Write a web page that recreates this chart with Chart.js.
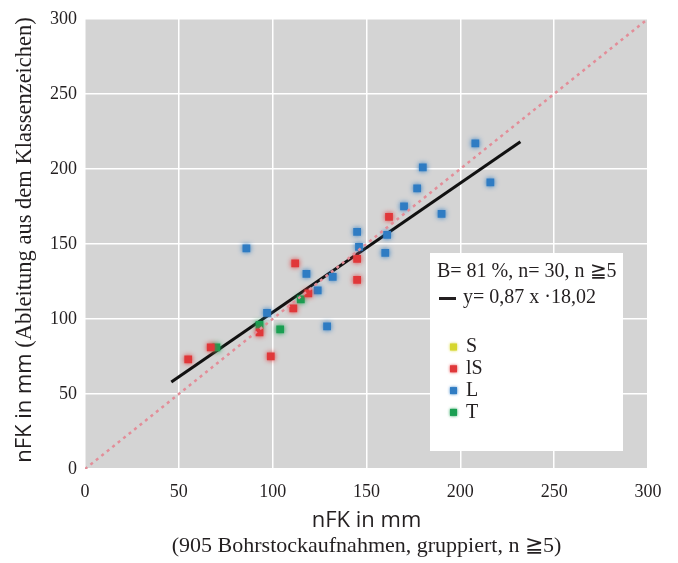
<!DOCTYPE html>
<html>
<head>
<meta charset="utf-8">
<script src="https://cdn.jsdelivr.net/npm/chart.js@4.4.1/dist/chart.umd.min.js"></script>
<style>
  html, body { margin: 0; padding: 0; background: #fff; }
</style>
</head>
<body>
<canvas id="c" width="678" height="563"></canvas>
<script>
var sX  = [], sY = [];
var lsX = [55, 67, 93, 99, 111, 112, 119, 145, 145, 162];
var lsY = [73, 81, 91, 75, 107, 137, 117, 140, 126, 168];
var lX  = [86, 97, 118, 124, 129, 132, 145, 146, 160, 161, 170, 177, 180, 190, 208, 216];
var lY  = [147, 104, 130, 119, 95, 128, 158, 148, 144, 156, 175, 187, 201, 170, 217, 191];
var tX  = [70, 93, 104, 115];
var tY  = [81, 96, 93, 113];

// Regressionsgerade und 1:1-Linie (Endpunkte)
var regX = [46, 232];
var regY = [58, 218];
var diagX = [0, 300];
var diagY = [0, 300];

var tickVals = [0, 50, 100, 150, 200, 250, 300];
var classLabels = ['S', 'lS', 'L', 'T'];
var classColors = ['#d6d62c', '#e0383a', '#2f7cc3', '#1a9f52'];

var statText = 'B= 81 %, n= 30, n \u22675';
var regText = 'y= 0,87 x \u00b718,02';
var xTitle = 'nFK in mm';
var xSub = '(905 Bohrstockaufnahmen, gruppiert, n \u22675)';
var yTitleA = 'nFK in mm';
var yTitleB = ' (Ableitung aus dem Klassenzeichen)';

var SERIF = '"Liberation Serif", "DejaVu Serif", serif';
var SANS = '"Open Sans", "Noto Sans", sans-serif';
var INK = '#231f20';

function pts(xs, ys) {
    return xs.map(function(x, i) { return { x: x, y: ys[i] }; });
}

function dotSet(label, xs, ys, color) {
    return {
        type: 'scatter', label: label, data: pts(xs, ys),
        backgroundColor: color, borderWidth: 0,
        pointStyle: 'rect', pointRadius: 5.5, pointHoverRadius: 5.5,
        glow: color
    };
}

var bgPlugin = {
    id: 'plotBg',
    beforeDraw: function(chart) {
        var a = chart.chartArea, ctx = chart.ctx;
        ctx.save();
        ctx.fillStyle = '#d4d4d4';
        ctx.fillRect(a.left, a.top, a.right - a.left, a.bottom - a.top);
        ctx.restore();
    }
};

// weicher Rand um die Punkte
var glowPlugin = {
    id: 'glow',
    beforeDatasetDraw: function(chart, args) {
        var ds = chart.data.datasets[args.index];
        chart.ctx.save();
        if (ds.glow) {
            chart.ctx.shadowColor = ds.glow;
            chart.ctx.shadowBlur = 5;
        }
    },
    afterDatasetDraw: function(chart) {
        chart.ctx.restore();
    }
};

function mixedText(ctx, parts) {
    var total = 0;
    parts.forEach(function(p) { ctx.font = p.font; p.w = ctx.measureText(p.text).width; total += p.w; });
    var x = -total / 2;
    parts.forEach(function(p) {
        ctx.font = p.font;
        ctx.fillText(p.text, x, 0);
        x += p.w;
    });
}

var textPlugin = {
    id: 'texts',
    afterDraw: function(chart) {
        var ctx = chart.ctx, a = chart.chartArea;
        ctx.save();
        ctx.fillStyle = INK;
        ctx.textBaseline = 'middle';
        ctx.textAlign = 'left';

        // Achsentitel x
        var cx = (a.left + a.right) / 2;
        ctx.save();
        ctx.translate(cx, 521);
        mixedText(ctx, [{ text: xTitle, font: '22px ' + SANS }]);
        ctx.restore();
        ctx.save();
        ctx.translate(cx, 546);
        mixedText(ctx, [{ text: xSub, font: '22px ' + SERIF }]);
        ctx.restore();

        // Achsentitel y
        ctx.save();
        ctx.translate(25, 240);
        ctx.rotate(-Math.PI / 2);
        mixedText(ctx, [{ text: yTitleA, font: '22px ' + SANS }, { text: yTitleB, font: '22.5px ' + SERIF }]);
        ctx.restore();

        // Legendenkasten
        var bx = 430, by = 253, bw = 193, bh = 198;
        ctx.fillStyle = '#ffffff';
        ctx.fillRect(bx, by, bw, bh);
        ctx.fillStyle = INK;
        ctx.font = '20px ' + SERIF;
        ctx.fillText(statText, 437, 272);
        ctx.fillRect(439, 297, 17, 3);
        ctx.fillText(regText, 463, 298);
        classLabels.forEach(function(lab, i) {
            var y = 347 + i * 21.8;
            ctx.save();
            ctx.fillStyle = classColors[i];
            ctx.shadowColor = classColors[i];
            ctx.shadowBlur = 3;
            ctx.fillRect(450, y - 3.5, 7, 7);
            ctx.restore();
            ctx.fillStyle = INK;
            ctx.fillText(lab, 466, y);
        });
        ctx.restore();
    }
};

var tickFont = { family: SERIF, size: 18 };

new Chart(document.getElementById('c'), {
    data: {
        datasets: [
            {
                type: 'line', label: '1:1', data: pts(diagX, diagY),
                borderColor: '#e38d98', borderWidth: 2.5, borderDash: [3, 4],
                pointRadius: 0, fill: false
            },
            dotSet('S', sX, sY, classColors[0]),
            dotSet('lS', lsX, lsY, classColors[1]),
            dotSet('L', lX, lY, classColors[2]),
            dotSet('T', tX, tY, classColors[3]),
            {
                type: 'line', label: 'Regression', data: pts(regX, regY),
                borderColor: '#111', borderWidth: 3,
                pointRadius: 0, fill: false
            }
        ]
    },
    options: {
        responsive: false,
        animation: false,
        layout: { padding: { top: 15, right: 30, left: 0, bottom: 0 } },
        plugins: {
            legend: { display: false },
            tooltip: { enabled: false }
        },
        scales: {
            x: {
                type: 'linear', min: 0, max: 300,
                afterBuildTicks: function(s) { s.ticks = tickVals.map(function(v) { return { value: v }; }); },
                afterFit: function(s) { s.height = 94; },
                ticks: { font: tickFont, color: INK, padding: 12, maxRotation: 0 },
                grid: { color: '#ffffff', lineWidth: 1.5, drawTicks: false },
                border: { display: false }
            },
            y: {
                type: 'linear', min: 0, max: 300,
                afterBuildTicks: function(s) { s.ticks = tickVals.map(function(v) { return { value: v }; }); },
                afterFit: function(s) { s.width = 85; },
                ticks: { font: tickFont, color: INK, padding: 8 },
                grid: { color: '#ffffff', lineWidth: 1.5, drawTicks: false },
                border: { display: false }
            }
        }
    },
    plugins: [bgPlugin, glowPlugin, textPlugin]
});
</script>
</body>
</html>
